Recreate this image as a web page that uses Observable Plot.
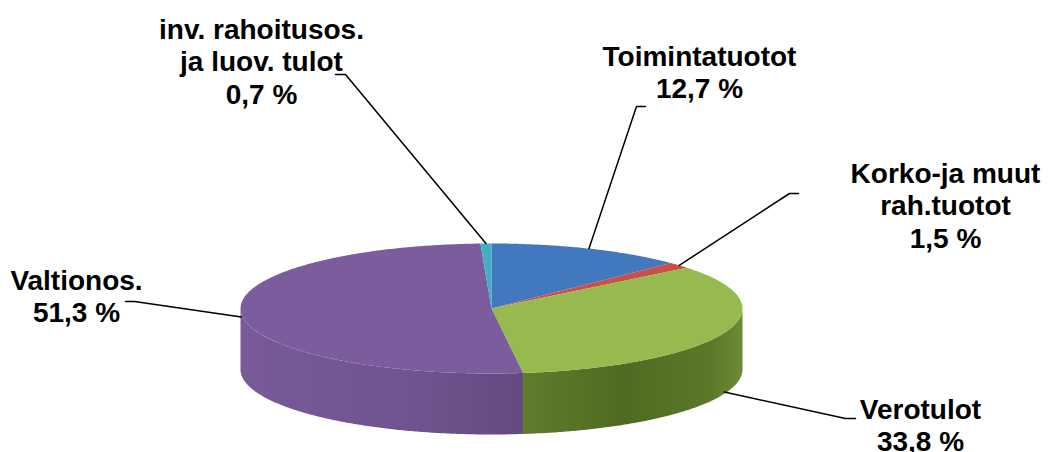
<!DOCTYPE html>
<html>
<head>
<meta charset="utf-8">
<script src="https://cdn.jsdelivr.net/npm/d3@7"></script>
<script src="https://cdn.jsdelivr.net/npm/@observablehq/plot@0.6"></script>
<style>
  html, body { margin: 0; padding: 0; background: #ffffff; }
  #chart svg { display: block; }
</style>
</head>
<body>
<div id="chart"></div>
<script>
// ---- data ----
const categories = ["Toimintatuotot", "Korko-ja muut rah.tuotot", "Verotulot", "Valtionos.", "inv. rahoitusos. ja luov. tulot"];
const shares = [12.7, 1.5, 33.8, 51.3, 0.7];
const labelNames = [["Toimintatuotot"], ["Korko-ja muut", "rah.tuotot"], ["Verotulot"], ["Valtionos."], ["inv. rahoitusos.", "ja luov. tulot"]];

// ---- styles ----
const topColors  = ["#4178be", "#c8504a", "#97ba50", "#7b5d9d", "#42aec8"];
const wallColors = ["#35639c", "#9e3c38", "url(#wallGreen)", "url(#wallPurple)", "#33879b"];
const gradients = {
  wallGreen:  [[0, "#5f7d2c"], [0.45, "#4f6b22"], [0.85, "#5a7828"], [1, "#6d8c37"]],
  wallPurple: [[0, "#785a99"], [0.6, "#6f548f"], [1, "#644a81"]]
};

// ---- layout (pie geometry and hand-placed labels, in px) ----
const W = 1050, H = 452;
const pie3d = {cx: 491, cy: 308, rx: 251, ry: 65, depth: 61};
const labelLayout = [
  {x: 699, y: 71,    from: 645, to: 636, ey: 106, wall: 0},
  {x: 945, y: 204.5, from: 798, to: 789, ey: 193, wall: 0},
  {x: 920, y: 424,   from: 855, to: 845, ey: 418, wall: 0.97},
  {x: 76,  y: 295,   from: 125, to: 134, ey: 301, wall: 0.05},
  {x: 261, y: 60.5,  from: 335, to: 345, ey: 74,  wall: 0}
];

// ---- geometry from data ----
const arcs = d3.pie().sort(null).value(d => d)(shares);
const px = a => pie3d.cx + pie3d.rx * Math.sin(a);
const py = a => pie3d.cy - pie3d.ry * Math.cos(a);
const step = Math.PI / 360;
function arcPts(a0, a1, dy = 0) {
  const n = Math.max(2, Math.ceil(Math.abs(a1 - a0) / step));
  return d3.range(n + 1).map(i => {
    const a = a0 + (a1 - a0) * i / n;
    return {x: px(a), y: py(a) + dy};
  });
}

const tops = [], walls = [], leaders = [], labels = [];
const wallExtents = {};
arcs.forEach((arc, i) => {
  [{x: pie3d.cx, y: pie3d.cy}, ...arcPts(arc.startAngle, arc.endAngle), {x: pie3d.cx, y: pie3d.cy}]
    .forEach(p => tops.push({...p, id: "t" + i, fill: topColors[i]}));
  const a0 = Math.max(arc.startAngle, Math.PI / 2), a1 = Math.min(arc.endAngle, 3 * Math.PI / 2);
  if (a0 < a1) {
    const pts = [...arcPts(a0, a1), ...arcPts(a1, a0, pie3d.depth)];
    pts.forEach(p => walls.push({...p, id: "w" + i, fill: wallColors[i]}));
    wallExtents[i] = d3.extent(pts, p => p.x);
  }
  const L = labelLayout[i];
  const mid = (arc.startAngle + arc.endAngle) / 2;
  const anchor = {x: px(mid), y: py(mid) + L.wall * pie3d.depth};
  [{x: L.from, y: L.ey}, {x: L.to, y: L.ey}, anchor]
    .forEach(p => leaders.push({...p, id: "l" + i}));
  const pct = shares[i].toFixed(1).replace(".", ",") + " %";
  labels.push({x: L.x, y: L.y, text: [...labelNames[i], pct].join("\n"), name: categories[i]});
});

const chart = Plot.plot({
  width: W,
  height: H,
  margin: 0,
  style: {background: "#ffffff"},
  x: {domain: [0, W], range: [0, W], axis: null},
  y: {domain: [0, H], range: [0, H], axis: null},
  color: {type: "identity"},
  marks: [
    Plot.line(walls, {x: "x", y: "y", z: "id", fill: "fill", stroke: "none", curve: "linear"}),
    Plot.line(tops, {x: "x", y: "y", z: "id", fill: "fill", stroke: "none", curve: "linear"}),
    Plot.line(leaders, {x: "x", y: "y", z: "id", stroke: "#000000", strokeWidth: 1.5, curve: "linear"}),
    Plot.text(labels, {
      x: "x", y: "y", text: "text",
      fontSize: 28, fontWeight: "bold",
      fontFamily: "'Liberation Sans', Arial, Helvetica, sans-serif",
      lineHeight: 1.16, textAnchor: "middle", lineAnchor: "middle",
      fill: "#000000"
    })
  ]
});

// gradient definitions for the side walls (horizontal, spanning each wall)
const svg = d3.select(chart);
const defs = svg.insert("defs", ":first-child");
[["wallGreen", 2], ["wallPurple", 3]].forEach(([id, i]) => {
  const [x0, x1] = wallExtents[i];
  const g = defs.append("linearGradient").attr("id", id)
    .attr("gradientUnits", "userSpaceOnUse")
    .attr("x1", x0).attr("x2", x1).attr("y1", 0).attr("y2", 0);
  gradients[id].forEach(([o, c]) => g.append("stop").attr("offset", o).attr("stop-color", c));
});
document.getElementById("chart").appendChild(chart);
</script>
</body>
</html>
